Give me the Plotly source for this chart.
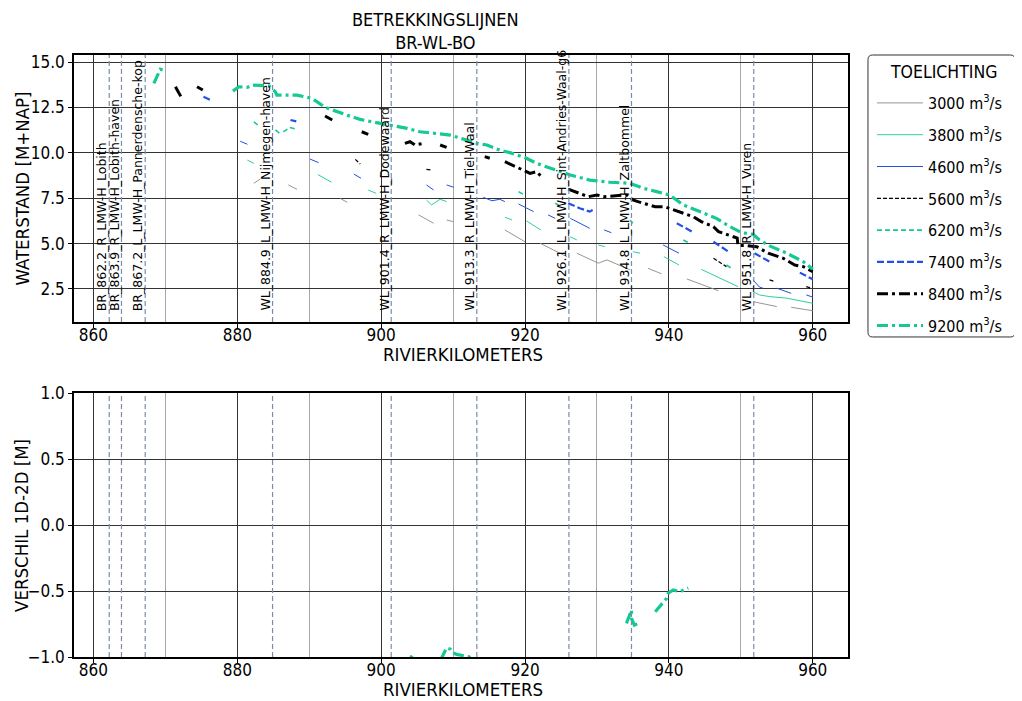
import plotly.graph_objects as go

# ---------------- data ----------------
DISCHARGES = ["3000", "3800", "4600", "5600", "6200", "7400", "8400", "9200"]

KM_3000 = [882.3, 883.2, None, 887.1, 888.3, None, 894.3, 895.3, None, 905.2, 907.3, None, 909.1, 910.0, None,
           917.2, 920.0, None, 922.1, 924.4, 925.8, None, 927.2, 928.8, 930.2, 931.4, 933.0, 934.6, None,
           937.1, 939.0, None, 942.5, 946.9, None, 951.7, 955.0, None, 957.0, 960.0]
WL_3000 = [8.32, 8.56, None, 8.23, 7.99, None, 7.49, 7.27, None, 6.58, 6.12, None, 6.30, 6.21, None,
           5.75, 5.10, None, 5.02, 4.55, 4.28, None, 4.47, 4.19, 3.92, 4.10, 3.82, 3.55, None,
           3.64, 3.33, None, 3.05, 2.40, None, 1.80, 1.53, None, 1.49, 1.30]

KM_3800 = [881.4, 882.3, None, 891.2, 893.1, None, 898.2, 899.3, None, 906.3, 907.0, 908.2, 909.1, None,
           917.2, 918.2, None, 920.2, 922.2, None, 926.3, 927.2, None, 930.2, 931.1, None, 935.0, 936.0, None,
           939.3, 941.4, None, 944.5, 949.6, None, 951.7, 952.6, 954.0, 956.4, 960.0]
WL_3800 = [9.60, 9.42, None, 8.80, 8.38, None, 7.95, 7.77, None, 7.40, 7.13, 7.44, 7.31, None,
           6.45, 6.30, None, 6.25, 5.75, None, 5.38, 5.20, None, 4.92, 4.83, None, 4.55, 4.47, None,
           4.28, 3.82, None, 3.58, 2.63, None, 2.35, 2.17, 2.08, 1.99, 1.71]

KM_4600 = [880.4, 881.4, None, 890.1, 891.3, None, 896.2, 897.2, None, 906.3, 907.3, None, 909.1, 910.1, None,
           914.2, 915.4, 916.5, 917.2, None, 919.1, 921.2, None, 923.2, 924.2, None, 926.3, 929.0, None,
           931.0, 932.0, None, 939.2, 941.4, None, 951.7, 952.6, 953.1, None, 955.0, 957.0, None, 959.1, 960.0]
WL_4600 = [10.64, 10.47, None, 9.66, 9.46, None, 8.83, 8.60, None, 8.23, 7.95, None, 8.23, 8.10, None,
           7.55, 7.36, 7.44, 7.31, None, 7.18, 6.76, None, 6.58, 6.39, None, 6.39, 5.84, None,
           5.75, 5.60, None, 4.92, 4.47, None, 3.00, 2.60, 2.54, None, 2.54, 2.26, None, 2.17, 2.05]

KM_5600 = [896.4, 897.1, None, 906.3, 907.0, None, 946.2, 948.0, None, 954.0, 954.7, None, 959.1, 959.8]
WL_5600 = [9.64, 9.38, None, 9.09, 9.05, None, 4.19, 3.73, None, 3.00, 2.90, None, 2.63, 2.54]

KM_6200 = [882.3, 883.0, None, 885.3, 885.9, None, 886.4, 887.3, 888.2, None, 919.1, 919.9, None,
           924.2, 924.9, None, 934.6, 935.0, None, 942.0, 942.7, None, 948.0, 948.7]
WL_6200 = [11.71, 11.49, None, 11.26, 11.07, None, 11.15, 11.40, 11.30, None, 7.86, 7.68, None,
           7.22, 7.07, None, 6.30, 6.12, None, 5.20, 5.05, None, 3.82, 3.64]

KM_7400 = [875.3, 876.3, None, 887.4, 888.2, None, 926.0, 927.6, 929.0, 929.4, None,
           941.1, 943.2, None, 946.2, 948.3, None, 951.9, 954.0, None, 958.2, 960.0]
WL_7400 = [13.09, 12.91, None, 11.81, 11.73, None, 7.22, 6.95, 6.76, 6.85, None,
           6.12, 5.66, None, 5.10, 4.55, None, 4.47, 4.00, None, 3.40, 3.03]

KM_8400 = [871.4, 872.3, None, 874.4, 875.2, None, 892.2, 893.2, None, 897.3, 898.2, None,
           903.3, 904.0, 904.7, 905.9, None, 908.2, 909.1, None, 914.4, 915.1, None,
           917.2, 919.1, 919.9, 920.7, 921.6, 922.1, 922.5, None,
           926.0, 926.9, 928.8, 930.0, 930.9, 934.1, 935.0, 935.7, 937.4, 938.1, 939.4, 940.1,
           943.4, 944.5, 946.2, 946.9, 949.5, 949.6, 950.6, 952.2, 953.8, 955.9, 957.5, 958.7, 960.0]
WL_8400 = [13.64, 13.00, None, 13.64, 13.46, None, 12.03, 11.81, None, 11.16, 11.02, None,
           10.52, 10.61, 10.43, 10.52, None, 10.43, 10.30, None, 9.79, 9.70, None,
           9.51, 9.15, 9.00, 8.87, 8.96, 8.78, 8.60, None,
           8.00, 7.86, 7.58, 7.68, 7.58, 7.68, 7.40, 7.31, 7.13, 7.03, 7.03, 6.94,
           6.48, 6.21, 5.93, 5.66, 5.30, 4.90, 4.90, 4.83, 4.47, 4.19, 3.82, 3.73, 3.45]

KM_9200 = [868.4, 869.3, 870.1, None, 879.4, 880.2, 881.4, 882.1, 884.4, 885.3, 885.5, 888.3, 890.4,
           892.2, 895.2, 897.1, 899.9, 901.3, 903.6, 905.4, 907.3, 909.6, 911.9, 913.3, 914.7, 916.5,
           917.9, 920.2, 921.6, 923.5, 926.3, 929.0, 931.8, 934.6, 936.4, 938.3, 940.1, 942.0, 944.3,
           946.6, 948.5, 950.1, 951.7, 952.6, 954.0, 956.4, 958.7, 960.0]
WL_9200 = [13.83, 14.61, 14.50, None, 13.40, 13.64, 13.61, 13.73, 13.69, 13.36, 13.18, 13.18, 13.00,
           12.51, 12.08, 11.84, 11.62, 11.53, 11.35, 11.16, 11.07, 10.98, 10.70, 10.52, 10.43, 10.15,
           10.01, 9.70, 9.42, 9.15, 8.78, 8.50, 8.38, 8.32, 8.05, 7.86, 7.68, 7.13, 6.76,
           6.39, 5.93, 5.60, 5.51, 5.20, 4.87, 4.47, 4.00, 3.58]

# difference 1D-2D
KM_DIFF = [903.6, 904.3, None, 908.3, 909.1, 909.6, 910.0, 910.5, 911.2, 912.2, 912.6, None,
           934.1, 934.8, 934.8, 935.2, 936.0, None, 938.1, 939.7, 939.9, 940.6, 941.5, 942.7]
DIFF = [-1.05, -0.99, None, -1.02, -0.93, -0.94, -0.97, -0.98, -0.985, -0.998, -1.02, None,
        -0.745, -0.644, -0.707, -0.758, -0.740, None, -0.657, -0.555, -0.517, -0.492, -0.505, -0.479]

STATION_KM = [862.2, 863.9, 867.2, 884.9, 901.4, 913.3, 926.1, 934.8, 951.8]
STATION_NAMES = ["BR_862.2_R_LMW-H_Lobith", "BR_863.9_R_LMW-H_Lobith-haven",
                 "BR_867.2_L_LMW-H_Pannerdensche-kop", "WL_884.9_L_LMW-H_Nijmegen-haven",
                 "WL_901.4_R_LMW-H_Dodewaard", "WL_913.3_R_LMW-H_Tiel-Waal",
                 "WL_926.1_L_LMW-H_Sint-Andries-Waal-g6", "WL_934.8_L_LMW-H_Zaltbommel",
                 "WL_951.8_R_LMW-H_Vuren"]

# ---------------- styles ----------------
GREEN = "#14c994"
BLUE = "#2150e6"
GRAY = "#8a8a8a"
DASHDOT = "11px,4px,3px,4px"
STYLES = {
    "3000": dict(color=GRAY, width=0.9, dash="solid"),
    "3800": dict(color=GREEN, width=0.9, dash="solid"),
    "4600": dict(color=BLUE, width=1.0, dash="solid"),
    "5600": dict(color="black", width=1.3, dash="4px,2px"),
    "6200": dict(color=GREEN, width=1.6, dash="5px,3px"),
    "7400": dict(color=BLUE, width=2.2, dash="7px,3px"),
    "8400": dict(color="black", width=3.0, dash=DASHDOT),
    "9200": dict(color=GREEN, width=3.2, dash=DASHDOT),
}
SERIES = {
    "3000": (KM_3000, WL_3000), "3800": (KM_3800, WL_3800), "4600": (KM_4600, WL_4600),
    "5600": (KM_5600, WL_5600), "6200": (KM_6200, WL_6200), "7400": (KM_7400, WL_7400),
    "8400": (KM_8400, WL_8400), "9200": (KM_9200, WL_9200),
}

MAIN_FONT = "DejaVu Sans Condensed, Liberation Sans Narrow, Roboto, sans-serif"
LABEL_FONT = "DejaVu Sans, sans-serif"
AX_TITLE_FONT = dict(family=MAIN_FONT, size=18.5, color="black")

fig = go.Figure()
for q in DISCHARGES:
    xs, ys = SERIES[q]
    fig.add_trace(go.Scatter(x=xs, y=ys, mode="lines", name=f"{q} m<sup>3</sup>/s",
                             line=STYLES[q], connectgaps=False, legendgroup=q,
                             xaxis="x", yaxis="y"))

fig.add_trace(go.Scatter(x=KM_DIFF, y=DIFF, mode="lines", showlegend=False,
                         line=STYLES["9200"], xaxis="x2", yaxis="y2", cliponaxis=True))

XR = [857.3, 964.9]
grid_common = dict(showline=True, mirror=True, linecolor="black", linewidth=1.6, automargin=False,
                   ticks="outside", ticklen=4, tickcolor="black", zeroline=False,
                   tickfont=dict(family=MAIN_FONT, size=17, color="black"))
xax = dict(range=XR, dtick=20, tick0=0, showgrid=True, gridcolor="#333333", gridwidth=1,
           minor=dict(dtick=10, tick0=0, showgrid=True, gridcolor="#a8a8a8", gridwidth=1, ticks=""),
           ticklabelstandoff=-7, **grid_common)
yax = dict(showgrid=True, gridcolor="#333333", gridwidth=1, dtick=2.5, tick0=0, tickformat=".1f",
           **grid_common)

# page body adds an 8px offset; margins compensate for it
fig.update_layout(
    width=1022, height=701,
    margin=dict(l=66, r=182, t=47, b=52),
    paper_bgcolor="white", plot_bgcolor="white",
    xaxis=dict(anchor="y", **xax),
    xaxis2=dict(anchor="y2", **xax),
    yaxis=dict(domain=[0.5565, 1.0], range=[0.68, 15.39], **yax),
    yaxis2=dict(domain=[0.0, 0.4385], range=[-1.0, 1.0], **{**yax, "dtick": 0.5}),
    legend=dict(x=1.031, y=0.9485, xanchor="left", yanchor="top",
                borderwidth=0, bgcolor="rgba(0,0,0,0)",
                font=dict(family=MAIN_FONT, size=16, color="black"),
                tracegroupgap=8, itemwidth=46),
    showlegend=True,
)

# legend frame (rounded) and title
x0, x1, y0, y1, r = 1.0258, 1.2158, 0.5316, 1.0, 0.006
ry = r * 774 / 602
fig.add_shape(type="path", xref="paper", yref="paper", layer="below",
              path=(f"M {x0 + r},{y1} L {x1 - r},{y1} Q {x1},{y1} {x1},{y1 - ry} "
                    f"L {x1},{y0 + ry} Q {x1},{y0} {x1 - r},{y0} L {x0 + r},{y0} "
                    f"Q {x0},{y0} {x0},{y0 + ry} L {x0},{y1 - ry} Q {x0},{y1} {x0 + r},{y1} Z"),
              line=dict(color="#333333", width=1), fillcolor="white")
fig.add_annotation(text="TOELICHTING", xref="paper", yref="paper", x=1.1240, y=0.9718,
                   xanchor="center", yanchor="middle", showarrow=False,
                   font=dict(family=MAIN_FONT, size=17.5, color="black"))

# axis titles
fig.add_annotation(text="RIVIERKILOMETERS", xref="paper", yref="paper", x=0.5026, y=0.5017,
                   xanchor="center", yanchor="middle", showarrow=False, font=AX_TITLE_FONT)
fig.add_annotation(text="RIVIERKILOMETERS", xref="paper", yref="paper", x=0.5026, y=-0.0548,
                   xanchor="center", yanchor="middle", showarrow=False, font=AX_TITLE_FONT)
fig.add_annotation(text="WATERSTAND [M+NAP]", xref="paper", yref="paper", x=-0.0672, y=0.7783,
                   xanchor="center", yanchor="middle", textangle=-90, showarrow=False, font=AX_TITLE_FONT)
fig.add_annotation(text="VERSCHIL 1D-2D [M]", xref="paper", yref="paper", x=-0.0672, y=0.2193,
                   xanchor="center", yanchor="middle", textangle=-90, showarrow=False, font=AX_TITLE_FONT)

# station lines and labels
for km, name in zip(STATION_KM, STATION_NAMES):
    for yref in ("y domain", "y2 domain"):
        xref = "x" if yref == "y domain" else "x2"
        fig.add_shape(type="line", xref=xref, yref=yref, x0=km, x1=km, y0=0, y1=1,
                      line=dict(color="#7d8ca3", width=1.2, dash="5px,3px"), layer="above")
    fig.add_annotation(x=km, y=1.23, xref="x", yref="y", text=name, textangle=-90,
                       xanchor="right", yanchor="bottom", showarrow=False,
                       font=dict(family=LABEL_FONT, size=12.5, color="black"),
                       borderpad=0, xshift=1)

fig.add_annotation(text="BETREKKINGSLIJNEN<br>BR-WL-BO", xref="paper", yref="paper",
                   x=0.4677, y=1.0793, xanchor="center", yanchor="top", showarrow=False,
                   font=dict(family=MAIN_FONT, size=18, color="black"))

fig.write_html("out.html")
